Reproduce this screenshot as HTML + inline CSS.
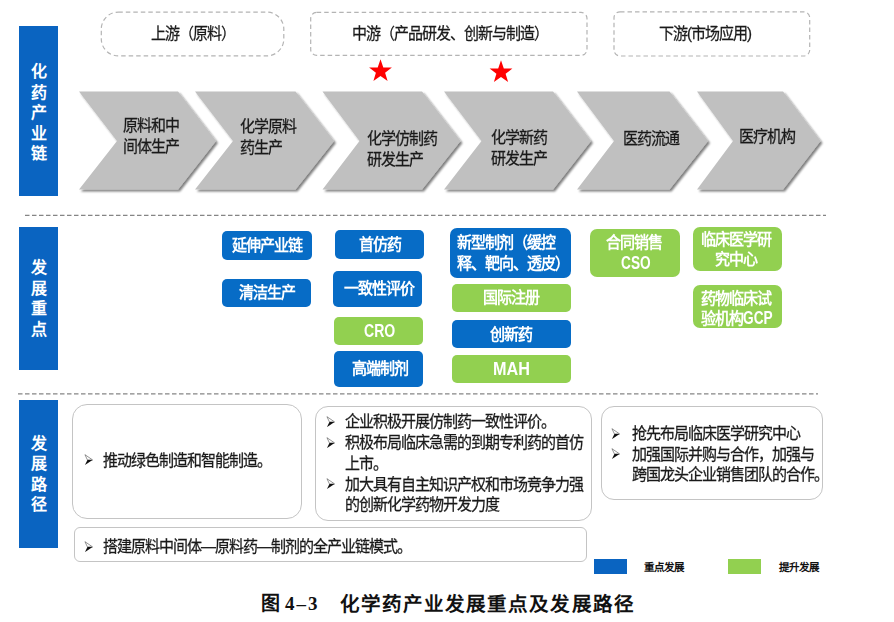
<!DOCTYPE html>
<html lang="zh-CN">
<head>
<meta charset="utf-8">
<style>
html,body{margin:0;padding:0;background:#fff;}
body{width:894px;height:622px;position:relative;overflow:hidden;font-family:"Liberation Sans",sans-serif;color:#222;}
.a{position:absolute;}
.bar{position:absolute;left:19px;width:39px;background:#0a64c1;}
.bt{position:absolute;color:#fff;font-weight:bold;font-size:16px;line-height:20.6px;width:20px;text-align:center;word-break:break-all;}
.dbox{position:absolute;border:1px dashed #bdbdbd;box-sizing:border-box;}
.hl{position:absolute;height:0;border-top:1px dashed #8c8c8c;}
.t{position:absolute;white-space:nowrap;font-size:15px;letter-spacing:-1px;line-height:20px;color:#1a1a1a;transform:scaleY(1.07);transform-origin:0 0;-webkit-text-stroke:0.25px #1a1a1a;}
.w{-webkit-text-stroke:0;}
.w{color:#fff;font-weight:bold;}
.btn{position:absolute;box-sizing:border-box;border-radius:5px;}
.b{background:#076cc6;}
.g{background:#92d050;}
.rb{position:absolute;box-sizing:border-box;border:1px solid #c4c4c4;background:#fff;}
.ar{position:absolute;}
.lat{display:inline-block;font-size:18px;letter-spacing:0;transform-origin:0 50%;}
</style>
</head>
<body>
<div class="bar" style="top:26px;height:170px;"></div>
<div class="bt" style="left:28.5px;top:62.0px;">化药产业链</div>
<div class="bar" style="top:227px;height:143px;"></div>
<div class="bt" style="left:28.5px;top:258.0px;">发展重点</div>
<div class="bar" style="top:400px;height:148px;"></div>
<div class="bt" style="left:28.5px;top:433.5px;">发展路径</div>
<svg class="a" style="left:0;top:0" width="894" height="70"><g fill="none" stroke="#b4b4b4" stroke-width="1.2" stroke-dasharray="4.5 3"><rect x="101.3" y="12.1" width="182.5" height="43.8" rx="17" ry="17"/><rect x="310.7" y="12.4" width="276.3" height="43" rx="6" ry="6"/><rect x="614" y="11.8" width="195.7" height="44.2" rx="6" ry="6"/></g></svg>
<div class="t" style="left:151.0px;top:23.0px;">上游（原料）</div>
<div class="t" style="left:352.0px;top:23.0px;">中游（产品研发、创新与制造）</div>
<div class="t" style="left:659.0px;top:23.0px;">下游(市场应用)</div>
<svg class="a" style="left:0;top:0" width="894" height="100"><polygon fill="#ff0000" points="380.5,59.3 383.3,67.4 391.9,67.6 385.1,72.8 387.6,81.0 380.5,76.1 373.4,81.0 375.9,72.8 369.1,67.6 377.7,67.4"/><polygon fill="#ff0000" points="501.0,60.3 503.8,68.4 512.4,68.6 505.6,73.8 508.1,82.0 501.0,77.1 493.9,82.0 496.4,73.8 489.6,68.6 498.2,68.4"/></svg>
<svg class="a" style="left:0;top:0" width="894" height="200"><defs><filter id="sh" x="-10%" y="-10%" width="130%" height="130%"><feGaussianBlur in="SourceAlpha" stdDeviation="0.8"/><feOffset dx="1.5" dy="2"/><feComponentTransfer><feFuncA type="linear" slope="0.5"/></feComponentTransfer><feMerge><feMergeNode/><feMergeNode in="SourceGraphic"/></feMerge></filter></defs><g fill="#c0c0c0" filter="url(#sh)"><polygon points="79,91.5 178,91.5 216,141 178,189.5 79,189.5 117,141"/><polygon points="195,91.5 295.5,91.5 334,141 295.5,189.5 195,189.5 233,141"/><polygon points="322.5,91.5 422,91.5 460.5,141 422,189.5 322.5,189.5 359.5,141"/><polygon points="444,91.5 553,91.5 591,141 553,189.5 444,189.5 481.5,141"/><polygon points="577,91.5 669.5,91.5 708,141 669.5,189.5 577,189.5 614,141"/><polygon points="697,91.5 783,91.5 820.5,141 783,189.5 697,189.5 733,141"/></g></svg>
<div class="t" style="left:123.0px;top:115.0px;">原料和中<br>间体生产</div>
<div class="t" style="left:240.0px;top:116.0px;">化学原料<br>药生产</div>
<div class="t" style="left:367.0px;top:127.5px;">化学仿制药<br>研发生产</div>
<div class="t" style="left:491.0px;top:127.0px;">化学新药<br>研发生产</div>
<div class="t" style="left:623.0px;top:128.0px;">医药流通</div>
<div class="t" style="left:739.0px;top:125.5px;">医疗机构</div>
<svg class="a" style="left:0;top:0" width="894" height="400"><g stroke="#858585" stroke-width="1.2" stroke-dasharray="4.5 2.5"><line x1="25" y1="215.3" x2="826" y2="215.3"/><line x1="18" y1="393.8" x2="818" y2="393.8"/></g></svg>
<div class="btn b" style="left:222.0px;top:231.0px;width:90.0px;height:29.0px;border-radius:5px;"></div>
<div class="t w" style="left:232.0px;top:234.5px;">延伸产业链</div>
<div class="btn b" style="left:222.0px;top:279.0px;width:89.0px;height:28.0px;border-radius:5px;"></div>
<div class="t w" style="left:239.0px;top:282.0px;">清洁生产</div>
<div class="btn b" style="left:335.0px;top:230.0px;width:89.0px;height:29.0px;border-radius:5px;"></div>
<div class="t w" style="left:359.0px;top:233.5px;">首仿药</div>
<div class="btn b" style="left:333.0px;top:271.0px;width:89.0px;height:36.0px;border-radius:5px;"></div>
<div class="t w" style="left:344.0px;top:278.0px;">一致性评价</div>
<div class="btn g" style="left:334.0px;top:317.0px;width:89.0px;height:27.5px;border-radius:5px;"></div>
<div class="t w" style="left:364.0px;top:320.0px;"><span class="lat" style="transform:scaleX(0.78)">CRO</span></div>
<div class="btn b" style="left:334.0px;top:351.0px;width:89.0px;height:36.0px;border-radius:5px;"></div>
<div class="t w" style="left:352.0px;top:357.5px;">高端制剂</div>
<div class="btn b" style="left:450.0px;top:227.5px;width:121.0px;height:50.0px;border-radius:7px;"></div>
<div class="t w" style="left:457.0px;top:231.5px;">新型制剂（缓控<br>释、靶向、透皮）</div>
<div class="btn g" style="left:451.5px;top:283.5px;width:119.0px;height:28.0px;border-radius:5px;"></div>
<div class="t w" style="left:483.0px;top:287.0px;">国际注册</div>
<div class="btn b" style="left:451.5px;top:320.0px;width:119.0px;height:28.0px;border-radius:5px;"></div>
<div class="t w" style="left:490.0px;top:323.5px;">创新药</div>
<div class="btn g" style="left:451.5px;top:355.0px;width:119.0px;height:28.0px;border-radius:5px;"></div>
<div class="t w" style="left:492.5px;top:357.5px;"><span class="lat" style="transform:scaleX(0.9)">MAH</span></div>
<div class="btn g" style="left:590.0px;top:228.5px;width:90.0px;height:48.5px;border-radius:7px;"></div>
<div class="t w" style="left:606.0px;top:231.5px;">合同销售</div>
<div class="t w" style="left:620.5px;top:251.5px;"><span class="lat" style="transform:scaleX(0.76)">CSO</span></div>
<div class="btn g" style="left:692.5px;top:227.0px;width:89.0px;height:44.0px;border-radius:7px;"></div>
<div class="t w" style="left:701.0px;top:229.0px;">临床医学研</div>
<div class="t w" style="left:715.0px;top:248.8px;">究中心</div>
<div class="btn g" style="left:692.5px;top:285.0px;width:89.0px;height:43.0px;border-radius:7px;"></div>
<div class="t w" style="left:701.0px;top:288.0px;">药物临床试</div>
<div class="t w" style="left:701.0px;top:307.0px;">验机构<span class="lat" style="transform:scaleX(0.76)">GCP</span></div>
<div class="rb" style="left:72px;top:403.5px;width:230px;height:115px;border-radius:15px;"></div>
<div class="rb" style="left:315px;top:405.5px;width:277px;height:115px;border-radius:13px;"></div>
<div class="rb" style="left:600.5px;top:406px;width:222px;height:94px;border-radius:13px;"></div>
<div class="rb" style="left:74px;top:527px;width:513px;height:35px;border-radius:6px;"></div>
<svg class="ar" style="left:83.5px;top:454.1px" width="9.5" height="11.8" viewBox="0 0 10 14" preserveAspectRatio="none"><path d="M1,0.8 L9,7 L3.6,7 Z" fill="none" stroke="#555" stroke-width="0.7"/><path d="M3.6,7 L9,7 L1,13.2 Z" fill="#111"/></svg><div class="t" style="left:103.0px;top:449.5px;">推动绿色制造和智能制造。</div>
<svg class="ar" style="left:326.0px;top:415.6px" width="9.5" height="11.8" viewBox="0 0 10 14" preserveAspectRatio="none"><path d="M1,0.8 L9,7 L3.6,7 Z" fill="none" stroke="#555" stroke-width="0.7"/><path d="M3.6,7 L9,7 L1,13.2 Z" fill="#111"/></svg><div class="t" style="left:345.0px;top:411.0px;">企业积极开展仿制药一致性评价。</div>
<svg class="ar" style="left:326.0px;top:436.5px" width="9.5" height="11.8" viewBox="0 0 10 14" preserveAspectRatio="none"><path d="M1,0.8 L9,7 L3.6,7 Z" fill="none" stroke="#555" stroke-width="0.7"/><path d="M3.6,7 L9,7 L1,13.2 Z" fill="#111"/></svg><div class="t" style="left:345.0px;top:431.9px;">积极布局临床急需的到期专利药的首仿</div>
<div class="t" style="left:345.0px;top:452.7px;">上市。</div>
<svg class="ar" style="left:326.0px;top:478.2px" width="9.5" height="11.8" viewBox="0 0 10 14" preserveAspectRatio="none"><path d="M1,0.8 L9,7 L3.6,7 Z" fill="none" stroke="#555" stroke-width="0.7"/><path d="M3.6,7 L9,7 L1,13.2 Z" fill="#111"/></svg><div class="t" style="left:345.0px;top:473.6px;">加大具有自主知识产权和市场竞争力强</div>
<div class="t" style="left:345.0px;top:494.4px;">的创新化学药物开发力度</div>
<svg class="ar" style="left:611.0px;top:427.6px" width="9.5" height="11.8" viewBox="0 0 10 14" preserveAspectRatio="none"><path d="M1,0.8 L9,7 L3.6,7 Z" fill="none" stroke="#555" stroke-width="0.7"/><path d="M3.6,7 L9,7 L1,13.2 Z" fill="#111"/></svg><div class="t" style="left:632.0px;top:423.0px;">抢先布局临床医学研究中心</div>
<svg class="ar" style="left:611.0px;top:448.2px" width="9.5" height="11.8" viewBox="0 0 10 14" preserveAspectRatio="none"><path d="M1,0.8 L9,7 L3.6,7 Z" fill="none" stroke="#555" stroke-width="0.7"/><path d="M3.6,7 L9,7 L1,13.2 Z" fill="#111"/></svg><div class="t" style="left:632.0px;top:443.6px;">加强国际并购与合作，加强与</div>
<div class="t" style="left:632.0px;top:464.2px;">跨国龙头企业销售团队的合作。</div>
<svg class="ar" style="left:83.5px;top:540.6px" width="9.5" height="11.8" viewBox="0 0 10 14" preserveAspectRatio="none"><path d="M1,0.8 L9,7 L3.6,7 Z" fill="none" stroke="#555" stroke-width="0.7"/><path d="M3.6,7 L9,7 L1,13.2 Z" fill="#111"/></svg><div class="t" style="left:103.0px;top:536.0px;">搭建原料中间体—原料药—制剂的全产业链模式。</div>
<div class="a" style="left:594px;top:559px;width:33px;height:15px;background:#0a64c1;"></div>
<div class="a" style="left:644px;top:559px;font-size:10.5px;font-weight:bold;line-height:16px;color:#111;">重点发展</div>
<div class="a" style="left:728px;top:559px;width:33px;height:15px;background:#92d050;"></div>
<div class="a" style="left:779px;top:559px;font-size:10.5px;font-weight:bold;line-height:16px;color:#111;">提升发展</div>
<div class="a" style="left:261px;top:592px;font-size:19px;font-weight:bold;line-height:24px;color:#111;white-space:nowrap;">图</div>
<div class="a" style="left:285px;top:592px;font-family:'Liberation Serif',serif;font-size:19px;font-weight:bold;letter-spacing:2px;line-height:24px;color:#111;white-space:nowrap;">4–3</div>
<div class="a" style="left:339.5px;top:592px;font-size:19.5px;font-weight:bold;letter-spacing:1.1px;line-height:24px;color:#111;white-space:nowrap;">化学药产业发展重点及发展路径</div>
</body>
</html>
